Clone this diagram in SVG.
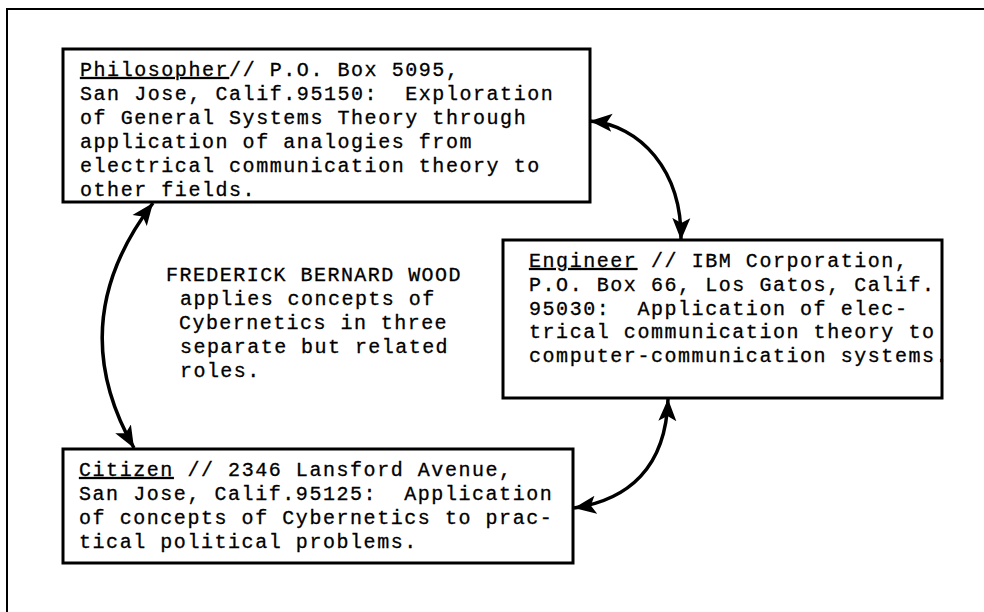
<svg xmlns="http://www.w3.org/2000/svg" width="984" height="612" viewBox="0 0 984 612">
<style>
  .frame { fill: none; stroke: #000; stroke-width: 2; }
  .box { fill: #fff; stroke: #000; stroke-width: 3; }
  .t { font-family: "Liberation Mono", "Courier New", monospace; font-size: 20px; letter-spacing: 1.55px; fill: #000; stroke: #000; stroke-width: 0.3; white-space: pre; }
  .w { letter-spacing: 1.45px; }
  .u { text-decoration: underline; }
  .conn { fill: none; stroke: #000; stroke-width: 3.5; }
</style>
<defs>
  <marker id="ah" markerUnits="userSpaceOnUse" markerWidth="30" markerHeight="24" refX="22" refY="10" orient="auto-start-reverse" viewBox="0 0 30 20">
    <path d="M0,1 L22,10 L0,19 L5,10 Z" fill="#000"/>
  </marker>
</defs>
<rect width="984" height="612" fill="#fff"/>
<path class="frame" d="M7,612 V9 H984"/>

<g id="philosopher">
  <rect class="box" x="63" y="49" width="527" height="153"/>
  <text class="t" xml:space="preserve" x="80" y="76"><tspan class="u">Philosopher</tspan>// P.O. Box 5095,</text>
  <text class="t" xml:space="preserve" x="80" y="100">San Jose, Calif.95150:  Exploration</text>
  <text class="t" xml:space="preserve" x="80" y="124">of General Systems Theory through</text>
  <text class="t" xml:space="preserve" x="80" y="148">application of analogies from</text>
  <text class="t" xml:space="preserve" x="80" y="172">electrical communication theory to</text>
  <text class="t" xml:space="preserve" x="80" y="196">other fields.</text>
</g>

<g id="engineer">
  <rect class="box" x="503" y="240" width="439" height="158"/>
  <text class="t" xml:space="preserve" x="529" y="267"><tspan class="u">Engineer</tspan> // IBM Corporation,</text>
  <text class="t" xml:space="preserve" x="529" y="291">P.O. Box 66, Los Gatos, Calif.</text>
  <text class="t" xml:space="preserve" x="529" y="315">95030:  Application of elec-</text>
  <text class="t" xml:space="preserve" x="529" y="338">trical communication theory to</text>
  <text class="t" xml:space="preserve" x="529" y="362">computer-communication systems.</text>
</g>

<g id="citizen">
  <rect class="box" x="63" y="449" width="510" height="114"/>
  <text class="t" xml:space="preserve" x="79" y="476"><tspan class="u">Citizen</tspan> // 2346 Lansford Avenue,</text>
  <text class="t" xml:space="preserve" x="79" y="500">San Jose, Calif.95125:  Application</text>
  <text class="t" xml:space="preserve" x="79" y="524">of concepts of Cybernetics to prac-</text>
  <text class="t" xml:space="preserve" x="79" y="548">tical political problems.</text>
</g>

<g id="wood">
  <text class="t w" xml:space="preserve" x="166" y="281">FREDERICK BERNARD WOOD</text>
  <text class="t w" xml:space="preserve" x="180" y="305">applies concepts of</text>
  <text class="t w" xml:space="preserve" x="179" y="329">Cybernetics in three</text>
  <text class="t w" xml:space="preserve" x="180" y="353">separate but related</text>
  <text class="t w" xml:space="preserve" x="180" y="377">roles.</text>
</g>

<g id="connectors">
  <path class="conn" d="M153,203 Q62,322 134,448" marker-start="url(#ah)" marker-end="url(#ah)"/>
  <path class="conn" d="M590,121 C640,125 682,170 681,240" marker-start="url(#ah)" marker-end="url(#ah)"/>
  <path class="conn" d="M668,399 C666,468 628,500 574,508" marker-start="url(#ah)" marker-end="url(#ah)"/>
</g>
</svg>
